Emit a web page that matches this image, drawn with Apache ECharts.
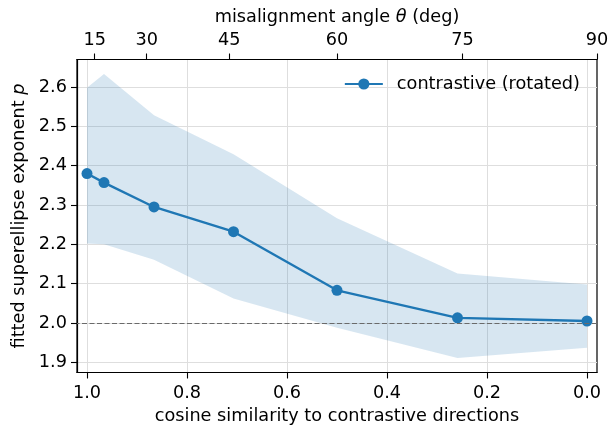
<!DOCTYPE html>
<html>
<head>
<meta charset="utf-8">
<script src="https://cdn.jsdelivr.net/npm/echarts@6/dist/echarts.min.js"></script>
<style>
  html, body { margin: 0; padding: 0; background: #fff; }
  #chart { width: 609px; height: 425px; }
</style>
</head>
<body>
<div id="chart"></div>
<script>
// Cosine similarity of each rotated probe direction to the contrastive directions
const cosineSimilarity = [1.0, 0.966, 0.866, 0.707, 0.5, 0.259, 0.0];
// Mean fitted superellipse exponent p at each similarity
const exponentMean = [2.380, 2.357, 2.295, 2.232, 2.083, 2.013, 2.005];
// Spread of the fitted exponent (lower / upper envelope)
const exponentLower = [2.202, 2.200, 2.161, 2.062, 1.988, 1.911, 1.937];
const exponentUpper = [2.598, 2.633, 2.528, 2.429, 2.266, 2.126, 2.098];

// Tick labels
const bottomTicks = [0.0, 0.2, 0.4, 0.6, 0.8, 1.0];
const yTicks = [1.9, 2.0, 2.1, 2.2, 2.3, 2.4, 2.5, 2.6];
const angleTicksDeg = [15, 30, 45, 60, 75, 90];

const referenceExponent = 2.0;
const seriesName = 'contrastive (rotated)';

const FONT = 'DejaVu Sans';
const FS = 17.7;
const BLUE = '#1f77b4';

// Top axis positions: the angle ticks sit at cos(theta)
const angleTickPositions = angleTicksDeg.map(d => Math.cos(d * Math.PI / 180));

const meanData = cosineSimilarity.map((x, i) => [x, exponentMean[i]]);
const bandData = cosineSimilarity.map((x, i) => [x, exponentLower[i], exponentUpper[i]]);

const axisLineStyle = { color: '#000', width: 1.2 };
const tickStyle = { color: '#000', width: 1.1 };
const labelStyle = { color: '#000', fontSize: FS, fontFamily: FONT };
const gridLineStyle = { color: '#dedede', width: 1 };
const italic = { fontStyle: 'italic', fontSize: FS, fontFamily: FONT, color: '#000' };

// Shaded envelope between the lower and upper values, drawn as one polygon
function renderBand(params, api) {
  if (params.dataIndex !== 0) return null;
  const upper = cosineSimilarity.map((x, i) => api.coord([x, exponentUpper[i]]));
  const lower = cosineSimilarity.map((x, i) => api.coord([x, exponentLower[i]])).reverse();
  return {
    type: 'polygon',
    shape: { points: upper.concat(lower) },
    style: { fill: 'rgba(31,119,180,0.18)', stroke: null },
    silent: true
  };
}

const chart = echarts.init(document.getElementById('chart'), null, { renderer: 'canvas' });

chart.setOption({
  animation: false,
  backgroundColor: '#fff',
  textStyle: { fontFamily: FONT },
  grid: {
    left: 77, right: 12, top: 59.5, bottom: 52.5,
    show: true, borderColor: '#000', borderWidth: 1.2,
    containLabel: false,
    outerBoundsMode: 'none'
  },
  legend: {
    data: [seriesName],
    right: 24, top: 70,
    itemWidth: 38, itemHeight: 14,
    selectedMode: false,
    textStyle: { color: '#000', fontSize: FS, fontFamily: FONT, padding: [0, 0, 0, 9] }
  },
  xAxis: [
    {
      type: 'value',
      position: 'bottom',
      min: -0.02, max: 1.02,
      inverse: true,
      name: 'cosine similarity to contrastive directions',
      nameLocation: 'middle',
      nameGap: 30.5,
      nameTextStyle: labelStyle,
      axisLine: { show: true, onZero: false, lineStyle: axisLineStyle },
      axisTick: { show: true, inside: false, length: 6, lineStyle: tickStyle, customValues: bottomTicks },
      axisLabel: { show: true, margin: 11.5, customValues: bottomTicks, formatter: v => v.toFixed(1), ...labelStyle },
      splitLine: { show: true, lineStyle: gridLineStyle }
    },
    {
      type: 'value',
      position: 'top',
      min: 0, max: 1,
      inverse: true,
      name: 'misalignment angle {i|θ} (deg)',
      nameLocation: 'middle',
      nameGap: 30,
      nameTextStyle: { ...labelStyle, rich: { i: italic } },
      axisLine: { show: true, onZero: false, lineStyle: axisLineStyle },
      axisTick: { show: true, inside: false, length: 6, lineStyle: tickStyle, customValues: angleTickPositions },
      axisLabel: {
        show: true, margin: 10.5, customValues: angleTickPositions,
        formatter: v => String(Math.round(Math.acos(Math.min(1, Math.max(0, v))) * 180 / Math.PI)),
        ...labelStyle
      },
      splitLine: { show: false }
    }
  ],
  yAxis: {
    type: 'value',
    min: 1.874, max: 2.670,
    name: 'fitted superellipse exponent {i|p}',
    nameLocation: 'middle',
    nameGap: 49,
    nameTextStyle: { ...labelStyle, rich: { i: italic } },
    axisLine: { show: true, onZero: false, lineStyle: axisLineStyle },
    axisTick: { show: true, inside: false, length: 6, lineStyle: tickStyle, customValues: yTicks },
    axisLabel: { show: true, margin: 10, customValues: yTicks, formatter: v => v.toFixed(1), ...labelStyle },
    splitLine: { show: true, lineStyle: gridLineStyle }
  },
  series: [
    {
      name: 'band',
      type: 'custom',
      xAxisIndex: 0,
      renderItem: renderBand,
      data: bandData,
      encode: { x: 0, y: [1, 2] },
      silent: true,
      z: 1
    },
    {
      name: 'reference',
      type: 'line',
      xAxisIndex: 0,
      data: [],
      silent: true,
      markLine: {
        silent: true,
        symbol: 'none',
        label: { show: false },
        lineStyle: { color: '#6a6a6a', width: 1, type: [5, 2.5] },
        data: [{ yAxis: referenceExponent }]
      },
      z: 2
    },
    {
      name: seriesName,
      type: 'line',
      xAxisIndex: 0,
      data: meanData,
      symbol: 'circle',
      symbolSize: 11,
      color: BLUE,
      lineStyle: { color: BLUE, width: 2.4 },
      itemStyle: { color: BLUE },
      z: 3
    }
  ]
});
</script>
</body>
</html>
